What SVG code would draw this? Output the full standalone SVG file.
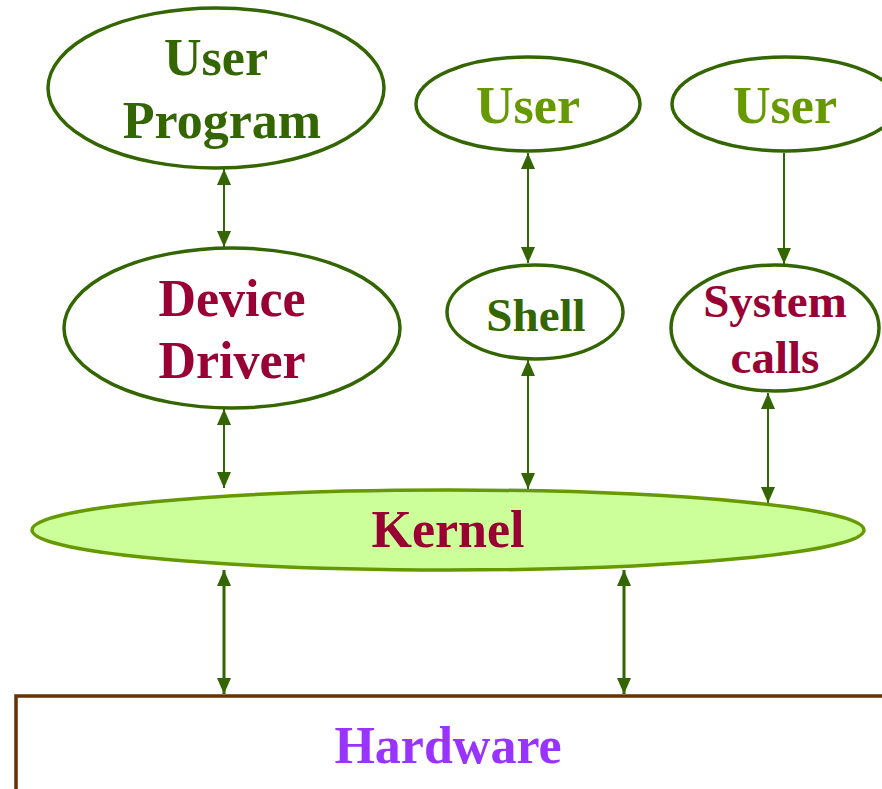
<svg xmlns="http://www.w3.org/2000/svg" width="882" height="789" viewBox="0 0 882 789">
  <style>
    .node { fill: #ffffff; stroke: #336600; stroke-width: 3.5; }
    .kernel { fill: #ccff99; stroke: #669900; stroke-width: 3.5; }
    .hw { fill: #ffffff; stroke: #663300; stroke-width: 3.5; }
    text { font-family: "Liberation Serif", "Times New Roman", serif; font-weight: bold; text-anchor: middle; }
    .big { font-size: 52px; }
    .mid { font-size: 47px; }
    .dg { fill: #336600; }
    .lg { fill: #669900; }
    .red { fill: #990033; }
    .purple { fill: #9933ff; }
    .link { stroke: #336600; stroke-width: 2; fill: none; }
    .thick { stroke-width: 3; }
  </style>
  <defs>
    <marker id="head" markerUnits="userSpaceOnUse" markerWidth="16" markerHeight="16" viewBox="0 0 16 16" refX="16" refY="8" orient="auto-start-reverse">
      <path d="M0,1 L16,8 L0,15 z" fill="#336600"/>
    </marker>
  </defs>

  <!-- connectors -->
  <g id="connectors">
    <line class="link" x1="224" y1="169" x2="224" y2="247" marker-start="url(#head)" marker-end="url(#head)"/>
    <line class="link" x1="528" y1="153" x2="528" y2="263" marker-start="url(#head)" marker-end="url(#head)"/>
    <line class="link" x1="784" y1="153" x2="784" y2="264" marker-end="url(#head)"/>
    <line class="link" x1="224" y1="409" x2="224" y2="488" marker-start="url(#head)" marker-end="url(#head)"/>
    <line class="link" x1="528" y1="360" x2="528" y2="489" marker-start="url(#head)" marker-end="url(#head)"/>
    <line class="link" x1="768" y1="393" x2="768" y2="503" marker-start="url(#head)" marker-end="url(#head)"/>
    <line class="link thick" x1="224" y1="570" x2="224" y2="694" marker-start="url(#head)" marker-end="url(#head)"/>
    <line class="link thick" x1="624" y1="570" x2="624" y2="694" marker-start="url(#head)" marker-end="url(#head)"/>
  </g>

  <g id="user-program">
    <ellipse class="node" cx="216" cy="88" rx="168" ry="80"/>
    <text class="big dg" x="216" y="75">User</text>
    <text class="big dg" x="222" y="138">Program</text>
  </g>

  <g id="user-shell">
    <ellipse class="node" cx="528" cy="104" rx="112" ry="47"/>
    <text class="big lg" x="528" y="123">User</text>
  </g>

  <g id="user-syscalls">
    <ellipse class="node" cx="785" cy="104" rx="113" ry="47"/>
    <text class="big lg" x="785" y="123">User</text>
  </g>

  <g id="device-driver">
    <ellipse class="node" cx="232" cy="328" rx="168" ry="80"/>
    <text class="big red" x="232" y="316">Device</text>
    <text class="big red" x="232" y="378">Driver</text>
  </g>

  <g id="shell">
    <ellipse class="node" cx="535" cy="312" rx="88" ry="47"/>
    <text class="mid dg" x="536" y="331">Shell</text>
  </g>

  <g id="system-calls">
    <ellipse class="node" cx="775" cy="328" rx="104" ry="63"/>
    <text class="mid red" x="775" y="317">System</text>
    <text class="mid red" x="775" y="373">calls</text>
  </g>

  <g id="kernel">
    <ellipse class="kernel" cx="448" cy="530" rx="416" ry="40"/>
    <text class="big red" x="448" y="547">Kernel</text>
  </g>

  <g id="hardware">
    <rect class="hw" x="16" y="696" width="880" height="120"/>
    <text class="big purple" x="448" y="763">Hardware</text>
  </g>
</svg>
